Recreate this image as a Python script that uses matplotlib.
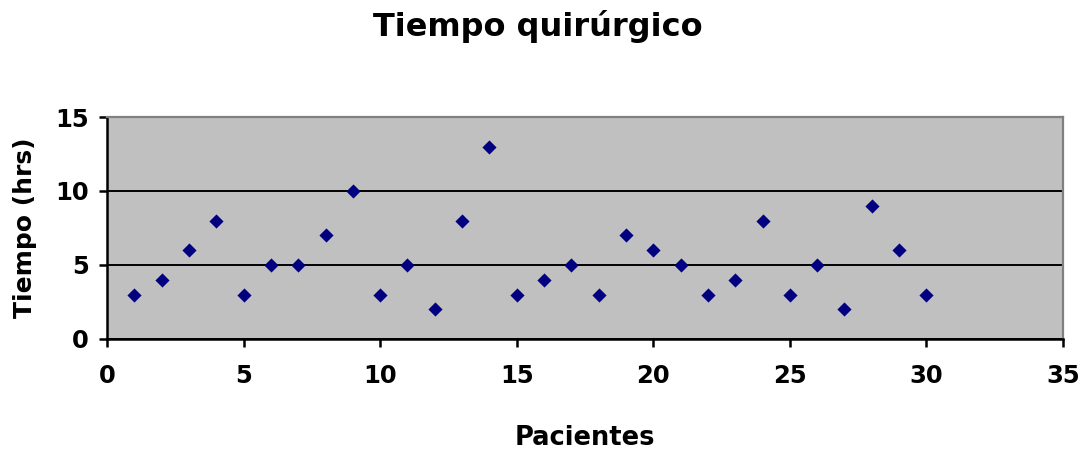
import matplotlib
matplotlib.use("Agg")
import matplotlib.pyplot as plt

# Surgical time per patient
pacientes = list(range(1, 31))
tiempo_hrs = [3, 4, 6, 8, 3, 5, 5, 7, 10, 3, 5, 2, 8, 13, 3,
              4, 5, 3, 7, 6, 5, 3, 4, 8, 3, 5, 2, 9, 6, 3]
x_ticks = [0, 5, 10, 15, 20, 25, 30, 35]
y_ticks = [0, 5, 10, 15]

plt.rcParams['font.family'] = ['DejaVu Sans']
plt.rcParams['font.weight'] = 'bold'

W, H = 1082, 449
fig = plt.figure(figsize=(W / 100, H / 100), dpi=100)
ax = fig.add_axes([107 / W, 1 - 339 / H, (1063 - 107) / W, (339 - 117) / H])
ax.set_facecolor('#c0c0c0')

ax.set_xlim(0, 35)
ax.set_ylim(0, 15)
ax.set_xticks(x_ticks)
ax.set_yticks(y_ticks)
ax.yaxis.grid(True, color='black', linewidth=1.4)
ax.set_axisbelow(True)

ax.scatter(pacientes, tiempo_hrs, marker='D', s=52, color='#000080', zorder=3, linewidths=0)

for side in ('top', 'right'):
    ax.spines[side].set_color('#808080')
    ax.spines[side].set_linewidth(1.6)
for side in ('left', 'bottom'):
    ax.spines[side].set_color('black')
    ax.spines[side].set_linewidth(1.8)

ax.tick_params(axis='both', direction='out', length=6, width=1.8, labelsize=17.5)
ax.tick_params(axis='x', pad=12)
ax.tick_params(axis='y', pad=7)
for lbl in ax.get_xticklabels() + ax.get_yticklabels():
    lbl.set_fontweight('bold')

fig.text(585 / W, 1 - 445 / H, 'Pacientes', ha='center', va='baseline',
         fontsize=18.5, fontweight='bold')
fig.text(25 / W, 1 - 228 / H, 'Tiempo (hrs)', ha='center', va='center',
         rotation=90, fontsize=18, fontweight='bold')
fig.text(538 / W, 1 - 36 / H, 'Tiempo quirúrgico', ha='center', va='baseline',
         fontsize=23, fontweight='bold')

fig.savefig('out.png', dpi=100, facecolor='white')
